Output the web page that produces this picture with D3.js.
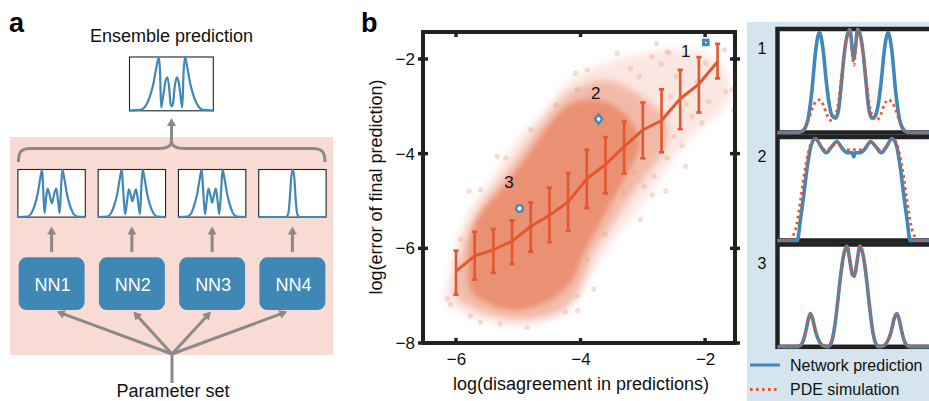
<!DOCTYPE html>
<html><head><meta charset="utf-8">
<script src="https://cdn.jsdelivr.net/npm/d3@7"></script>
<style>
body{margin:0;background:#fff;}
svg{display:block;font-family:"Liberation Sans",Arial,Helvetica,sans-serif;}
</style>
</head><body>
<svg id="c" width="929" height="401"></svg>
<script>
// ---------------- DATA ----------------
// Panel b: binned mean and error bars
const binX    = [-6.0,-5.7,-5.4,-5.1,-4.8,-4.5,-4.2,-3.9,-3.6,-3.3,-3.0,-2.7,-2.4,-2.1,-1.8];
const binMean = [-6.48,-6.16,-6.03,-5.85,-5.54,-5.30,-5.02,-4.53,-4.23,-3.85,-3.50,-3.30,-2.84,-2.53,-2.06];
const binLow  = [-6.98,-6.66,-6.52,-6.33,-6.07,-5.87,-5.63,-5.15,-4.84,-4.42,-4.10,-3.97,-3.48,-3.13,-2.41];
const binHigh = [-6.05,-5.65,-5.59,-5.41,-5.03,-4.72,-4.41,-3.92,-3.65,-3.32,-2.92,-2.64,-2.23,-1.96,-1.68];

// scatter cloud: density outlines (x = log disagreement, y = log error)
const cloudOuter = [[-6.15,-7.1],[-6.1,-6.5],[-5.97,-5.8],[-5.78,-5.2],[-5.52,-4.7],[-5.22,-4.1],[-4.87,-3.5],[-4.52,-3.0],[-4.22,-2.5],[-3.82,-2.2],[-3.4,-2.0],[-2.9,-1.85],[-2.4,-1.8],[-2.0,-1.9],[-1.7,-2.2],[-1.6,-2.7],[-1.75,-3.1],[-2.1,-3.5],[-2.45,-4.0],[-2.75,-4.6],[-3.1,-5.2],[-3.5,-5.9],[-3.8,-6.5],[-4.05,-7.1],[-4.5,-7.5],[-5.0,-7.62],[-5.5,-7.55],[-5.9,-7.35]];
const cloudMid = [[-6.0,-7.0],[-5.95,-6.3],[-5.8,-5.6],[-5.55,-5.0],[-5.25,-4.5],[-4.95,-3.95],[-4.65,-3.4],[-4.3,-2.85],[-3.95,-2.55],[-3.6,-2.45],[-3.25,-2.6],[-2.9,-2.9],[-2.62,-3.3],[-2.62,-3.8],[-2.85,-4.3],[-3.2,-4.9],[-3.5,-5.5],[-3.8,-6.1],[-4.0,-6.8],[-4.3,-7.3],[-4.8,-7.5],[-5.3,-7.45],[-5.75,-7.25]];
const cloudCore = [[-5.75,-6.9],[-5.8,-6.3],[-5.75,-5.7],[-5.6,-5.25],[-5.3,-4.8],[-5.0,-4.3],[-4.75,-3.85],[-4.45,-3.3],[-4.15,-2.95],[-3.8,-2.85],[-3.45,-3.0],[-3.2,-3.3],[-3.05,-3.8],[-3.2,-4.3],[-3.45,-4.9],[-3.7,-5.5],[-3.95,-6.1],[-4.15,-6.7],[-4.5,-7.1],[-5.0,-7.3],[-5.4,-7.2]];
const cloudStray = [[-3.41,-1.88],[-2.61,-1.85],[-1.99,-2.09],[-1.56,-2.65],[-1.54,-3.07],[-2.31,-4.27],[-2.37,-3.83],[-2.63,-4.79],[-3.06,-2.37],[-4.08,-2.30],[-4.40,-2.97],[-5.34,-4.06],[-5.79,-4.79],[-6.09,-7.18],[-5.61,-7.56],[-4.86,-7.67],[-4.05,-7.32],[-3.79,-6.86],[-3.04,-5.39],[-3.30,-4.83],[-2.82,-4.48],[-2.78,-1.67],[-2.58,-1.87],[-2.85,-1.95],[-2.70,-2.11],[-2.85,-4.88],[-2.98,-4.69],[-1.67,-2.69],[-1.69,-1.81],[-2.55,-2.79],[-2.47,-2.37],[-2.13,-2.48],[-1.94,-2.90],[-2.21,-3.21],[-2.50,-3.64],[-2.61,-4.09],[-3.14,-4.41],[-6.14,-7.07],[-5.77,-7.43],[-5.29,-7.60],[-5.61,-4.76],[-5.20,-4.09],[-4.80,-3.49],[-4.05,-2.65],[-3.89,-2.23],[-5.93,-5.81],[-3.89,-6.23],[-4.05,-7.0],[-4.24,-7.35],[-3.2,-2.2],[-2.3,-2.95],[-2.05,-3.35],[-3.6,-5.7]];

const specialPts = [
  {id:"1", x:-1.99, y:-1.65, shape:"square"},
  {id:"2", x:-3.71, y:-3.27, shape:"diamond"},
  {id:"3", x:-4.98, y:-5.16, shape:"circle"}
];
const xTicks = [-6,-4,-2];
const yTicks = [-8,-6,-4,-2];

// Panel b right: profiles (u across panel, v normalised height)
const p1Net = [[-1,0],[-0.74,0],[-0.68,0.01],[-0.64,0.04],[-0.6,0.13],[-0.55,0.4],[-0.5,0.8],[-0.45,0.98],[-0.4,0.8],[-0.36,0.5],[-0.32,0.27],[-0.28,0.16],[-0.24,0.14],[-0.2,0.22],[-0.16,0.5],[-0.12,0.8],[-0.08,0.97],[-0.05,1.01],[-0.02,0.82],[0,0.72],[0.02,0.82],[0.05,1.01],[0.08,0.97],[0.12,0.8],[0.16,0.5],[0.2,0.22],[0.24,0.14],[0.28,0.16],[0.32,0.27],[0.36,0.5],[0.4,0.8],[0.45,0.98],[0.5,0.8],[0.55,0.4],[0.6,0.13],[0.64,0.04],[0.68,0.01],[0.74,0],[1,0]];
const p1Pde = [[-1,0],[-0.72,0],[-0.66,0.03],[-0.6,0.11],[-0.55,0.22],[-0.5,0.3],[-0.45,0.32],[-0.4,0.27],[-0.35,0.17],[-0.3,0.12],[-0.25,0.15],[-0.2,0.3],[-0.16,0.55],[-0.12,0.8],[-0.08,0.96],[-0.05,1.01],[-0.03,0.85],[0,0.66],[0.03,0.85],[0.05,1.01],[0.08,0.96],[0.12,0.8],[0.16,0.55],[0.2,0.3],[0.25,0.15],[0.3,0.12],[0.35,0.17],[0.4,0.27],[0.45,0.32],[0.5,0.3],[0.55,0.22],[0.6,0.11],[0.66,0.03],[0.72,0],[1,0]];
const p2Net = [[-1,0],[-0.74,0],[-0.7,0.2],[-0.66,0.42],[-0.61,0.72],[-0.56,0.93],[-0.5,1.0],[-0.43,0.92],[-0.36,0.86],[-0.29,0.92],[-0.22,0.97],[-0.15,0.9],[-0.08,0.86],[-0.02,0.86],[0,0.82],[0.02,0.86],[0.08,0.86],[0.15,0.9],[0.22,0.97],[0.29,0.92],[0.36,0.86],[0.43,0.92],[0.5,1.0],[0.56,0.93],[0.61,0.72],[0.66,0.42],[0.7,0.2],[0.74,0],[1,0]];
const p2Pde = [[-1,0],[-0.86,0],[-0.8,0.04],[-0.75,0.15],[-0.7,0.38],[-0.65,0.65],[-0.6,0.85],[-0.55,0.97],[-0.51,1.0],[-0.44,0.93],[-0.36,0.88],[-0.29,0.92],[-0.22,0.96],[-0.15,0.91],[-0.08,0.89],[0,0.89],[0.08,0.89],[0.15,0.91],[0.22,0.96],[0.29,0.92],[0.36,0.88],[0.44,0.93],[0.51,1.0],[0.55,0.97],[0.6,0.85],[0.65,0.65],[0.7,0.38],[0.75,0.15],[0.8,0.04],[0.86,0],[1,0]];
const p3Net = [[-1,0],[-0.74,0],[-0.68,0.03],[-0.63,0.15],[-0.6,0.26],[-0.57,0.33],[-0.54,0.28],[-0.5,0.15],[-0.45,0.05],[-0.4,0.01],[-0.34,0],[-0.29,0.05],[-0.25,0.2],[-0.21,0.45],[-0.17,0.72],[-0.13,0.92],[-0.09,1.0],[-0.05,0.85],[-0.02,0.72],[0,0.7],[0.02,0.74],[0.05,0.88],[0.08,1.0],[0.12,0.92],[0.16,0.72],[0.2,0.45],[0.24,0.2],[0.28,0.05],[0.33,0],[0.39,0.01],[0.44,0.05],[0.49,0.15],[0.53,0.28],[0.565,0.33],[0.6,0.26],[0.63,0.15],[0.68,0.03],[0.74,0],[1,0]];
const p3Pde = [[-1,0],[-0.74,0],[-0.68,0.03],[-0.63,0.15],[-0.6,0.26],[-0.57,0.33],[-0.54,0.28],[-0.5,0.15],[-0.45,0.05],[-0.4,0.01],[-0.34,0],[-0.29,0.05],[-0.25,0.2],[-0.21,0.45],[-0.17,0.72],[-0.13,0.92],[-0.09,1.0],[-0.05,0.85],[-0.02,0.71],[0,0.69],[0.02,0.73],[0.05,0.88],[0.08,1.0],[0.12,0.92],[0.16,0.72],[0.2,0.45],[0.24,0.2],[0.28,0.05],[0.33,0],[0.39,0.01],[0.44,0.05],[0.49,0.15],[0.53,0.28],[0.565,0.33],[0.6,0.26],[0.63,0.15],[0.68,0.03],[0.74,0],[1,0]];
const panelLabels = ["1","2","3"];
const legendLabels = ["Network prediction","PDE simulation"];

// Panel a: networks and their predicted profiles
const nnNames = ["NN1","NN2","NN3","NN4"];
const ensembleCurve = [[-1,0],[-0.75,0.01],[-0.62,0.08],[-0.52,0.25],[-0.43,0.5],[-0.36,0.8],[-0.3,1.0],[-0.27,0.7],[-0.245,0.06],[-0.2,0.25],[-0.14,0.55],[-0.095,0.62],[-0.05,0.4],[-0.02,0.12],[0.01,0.08],[0.04,0.14],[0.08,0.45],[0.13,0.62],[0.18,0.5],[0.23,0.2],[0.26,0.06],[0.29,0.7],[0.325,1.0],[0.38,0.8],[0.45,0.5],[0.54,0.25],[0.64,0.08],[0.76,0.01],[1,0]];
const nnCurves = [
  [[-1,0],[-0.72,0.01],[-0.6,0.08],[-0.5,0.25],[-0.41,0.5],[-0.34,0.8],[-0.28,1.0],[-0.25,0.6],[-0.21,0.08],[-0.17,0.35],[-0.12,0.6],[-0.07,0.5],[0.01,0.29],[0.08,0.5],[0.14,0.6],[0.19,0.35],[0.24,0.08],[0.28,0.6],[0.32,1.0],[0.38,0.8],[0.45,0.5],[0.54,0.25],[0.64,0.08],[0.76,0.01],[1,0]],
  [[-1,0],[-0.74,0.01],[-0.62,0.08],[-0.52,0.25],[-0.43,0.5],[-0.36,0.8],[-0.3,1.0],[-0.26,0.6],[-0.2,0.06],[-0.14,0.35],[-0.09,0.58],[-0.04,0.48],[0.02,0.33],[0.07,0.48],[0.125,0.58],[0.18,0.35],[0.24,0.06],[0.28,0.6],[0.32,1.0],[0.38,0.8],[0.45,0.5],[0.54,0.25],[0.64,0.08],[0.76,0.01],[1,0]],
  [[-1,0],[-0.74,0.01],[-0.62,0.08],[-0.53,0.25],[-0.44,0.5],[-0.37,0.8],[-0.31,1.0],[-0.27,0.6],[-0.21,0.06],[-0.16,0.35],[-0.11,0.6],[-0.05,0.45],[0,0.3],[0.05,0.45],[0.11,0.6],[0.16,0.35],[0.21,0.06],[0.27,0.6],[0.31,1.0],[0.37,0.8],[0.44,0.5],[0.53,0.25],[0.62,0.08],[0.74,0.01],[1,0]],
  [[-1,0],[-0.2,0],[-0.13,0.05],[-0.08,0.35],[-0.04,0.8],[0.01,1.0],[0.06,0.8],[0.1,0.35],[0.15,0.05],[0.22,0],[1,0]]
];

// ---------------- STYLE ----------------
const BLUE = "#3f88b8", RED = "#e4572e", GREY = "#8a8a8a", DARK = "#222";
const svg = d3.select("#c");
const defs = svg.append("defs");
[["blur4",3.5],["blur3",2.5]].forEach(([id,s])=>{
  defs.append("filter").attr("id",id).attr("x","-30%").attr("y","-30%").attr("width","160%").attr("height","160%")
    .append("feGaussianBlur").attr("stdDeviation",s);
});

function arrow(g, x1, y1, x2, y2){
  const a = Math.atan2(y2-y1, x2-x1), L = 8, hw = 4.5;
  const bx = x2 - L*Math.cos(a), by = y2 - L*Math.sin(a);
  g.append("line").attr("x1",x1).attr("y1",y1).attr("x2",bx+1*Math.cos(a)).attr("y2",by+1*Math.sin(a))
    .attr("stroke",GREY).attr("stroke-width",3);
  g.append("path").attr("d",`M${x2},${y2}L${bx - hw*Math.sin(a)},${by + hw*Math.cos(a)}L${bx + hw*Math.sin(a)},${by - hw*Math.cos(a)}Z`)
    .attr("fill",GREY);
}

// ================= PANEL A =================
const ga = svg.append("g");
ga.append("text").attr("x",9).attr("y",31.5).attr("font-size",27).attr("font-weight","bold").text("a");
ga.append("rect").attr("x",10).attr("y",137).attr("width",323).attr("height",218).attr("fill","#f8dcd4");

const col = d3.scalePoint().domain(nnNames).range([51.6, 292.4]);
const miniLine = (xs, ys) => d3.line().x(d=>xs(d[0])).y(d=>ys(d[1])).curve(d3.curveMonotoneX);

// ensemble box
const ex = d3.scaleLinear().domain([-1,1]).range([129.5,213.3]);
const ey = d3.scaleLinear().domain([0,1]).range([110.5,57]);
ga.append("text").attr("x",171.5).attr("y",41.5).attr("text-anchor","middle").attr("font-size",18).attr("fill","#111").text("Ensemble prediction");
ga.append("rect").attr("x",129.5).attr("y",57).attr("width",83.8).attr("height",53.8).attr("fill","#fff").attr("stroke",DARK).attr("stroke-width",1.1);
ga.append("path").attr("d",miniLine(ex,ey)(ensembleCurve)).attr("fill","none").attr("stroke",BLUE).attr("stroke-width",2.2);

// up arrow and brace
arrow(ga, 171.5, 142, 171.5, 118);
ga.append("path").attr("d","M18.5,162 C18.5,152 21,148.5 30,148.5 L158,148.5 C166,148.5 171.5,147 171.5,141 C171.5,147 177,148.5 185,148.5 L313,148.5 C322,148.5 325,152 325,162")
  .attr("fill","none").attr("stroke",GREY).attr("stroke-width",3);

// NN output boxes
const oy = d3.scaleLinear().domain([0,1]).range([217,169.5]);
nnNames.forEach((n,i)=>{
  const cx = col(n);
  const xs = d3.scaleLinear().domain([-1,1]).range([cx-33.7, cx+33.7]);
  ga.append("rect").attr("x",cx-33.7).attr("y",169.5).attr("width",67.4).attr("height",47.6).attr("fill","#fff").attr("stroke",DARK).attr("stroke-width",1.1);
  ga.append("path").attr("d",miniLine(xs,oy)(nnCurves[i])).attr("fill","none").attr("stroke",BLUE).attr("stroke-width",2.2);
  arrow(ga, cx, 252, cx, 226.5);
  ga.append("rect").attr("x",cx-33).attr("y",257.3).attr("width",66).attr("height",52.7).attr("rx",8).attr("fill","#3f88b6");
  ga.append("text").attr("x",cx+1).attr("y",290.5).attr("text-anchor","middle").attr("font-size",18).attr("fill","#fff").text(n);
});
// parameter set arrows
const tipX = [56.7,133.3,211,287.3];
tipX.forEach(tx=>arrow(ga, 172, 354, tx, 311.5));
ga.append("line").attr("x1",172).attr("y1",352).attr("x2",172).attr("y2",383).attr("stroke",GREY).attr("stroke-width",3);
ga.append("text").attr("x",173).attr("y",396.5).attr("text-anchor","middle").attr("font-size",18).attr("fill","#111").text("Parameter set");

// ================= PANEL B (scatter) =================
const gb = svg.append("g");
gb.append("text").attr("x",361).attr("y",31.5).attr("font-size",27).attr("font-weight","bold").text("b");
const x = d3.scaleLinear().domain([-6.53,-1.52]).range([423,735]);
const y = d3.scaleLinear().domain([-8,-1.43]).range([343,32]);
const cl = d3.line().x(d=>x(d[0])).y(d=>y(d[1])).curve(d3.curveCatmullRomClosed.alpha(0.5));

const cloud = gb.append("g");
cloud.append("path").attr("d",cl(cloudOuter)).attr("fill","#ef9f85").attr("opacity",0.24).attr("filter","url(#blur4)");
cloud.append("path").attr("d",cl(cloudMid)).attr("fill","#ec9579").attr("opacity",0.55).attr("filter","url(#blur4)");
cloud.append("path").attr("d",cl(cloudCore)).attr("fill","#ea8c6c").attr("opacity",0.88).attr("filter","url(#blur3)");
cloud.selectAll("circle").data(cloudStray).join("circle")
  .attr("cx",d=>x(d[0])).attr("cy",d=>y(d[1])).attr("r",2.7).attr("fill","#ec9478").attr("opacity",0.32);

// mean line + error bars
gb.append("path").attr("d",d3.line().x((d,i)=>x(binX[i])).y(d=>y(d))(binMean))
  .attr("fill","none").attr("stroke",RED).attr("stroke-width",3).attr("stroke-linejoin","round");
const eb = gb.append("g").attr("stroke",RED);
binX.forEach((bx,i)=>{
  eb.append("line").attr("x1",x(bx)).attr("x2",x(bx)).attr("y1",y(binLow[i])).attr("y2",y(binHigh[i])).attr("stroke-width",2.6);
  [binLow[i],binHigh[i]].forEach(v=>eb.append("line").attr("x1",x(bx)-2.6).attr("x2",x(bx)+2.6).attr("y1",y(v)).attr("y2",y(v)).attr("stroke-width",2.6));
});

// special points
const lblOff = {"1":[-20,14.5],"2":[-3,-20],"3":[-10.5,-21]};
specialPts.forEach(p=>{
  const px = x(p.x), py = y(p.y);
  if(p.shape==="square"){
    gb.append("rect").attr("x",px-3.8).attr("y",py-3.8).attr("width",7.6).attr("height",7.6).attr("fill",BLUE);
    gb.append("circle").attr("cx",px).attr("cy",py).attr("r",0.9).attr("fill","#fff");
  } else if(p.shape==="diamond"){
    gb.append("path").attr("d",`M${px},${py-4.6}L${px+3.6},${py}L${px},${py+4.6}L${px-3.6},${py}Z`).attr("fill","#fff").attr("stroke",BLUE).attr("stroke-width",2.4);
  } else {
    gb.append("circle").attr("cx",px).attr("cy",py).attr("r",3.4).attr("fill","#fff").attr("stroke",BLUE).attr("stroke-width",2.4);
  }
  const o = lblOff[p.id];
  gb.append("text").attr("x",px+o[0]).attr("y",py+o[1]).attr("text-anchor","middle").attr("font-size",17).attr("fill","#111").text(p.id);
});

// frame and ticks
gb.append("rect").attr("x",423).attr("y",32).attr("width",312).attr("height",311).attr("fill","none").attr("stroke",DARK).attr("stroke-width",4);
const tk = gb.append("g").attr("stroke",DARK).attr("stroke-width",3.5);
xTicks.forEach(v=>{
  tk.append("line").attr("x1",x(v)).attr("x2",x(v)).attr("y1",30).attr("y2",37);
  tk.append("line").attr("x1",x(v)).attr("x2",x(v)).attr("y1",338).attr("y2",345);
});
yTicks.forEach(v=>{
  tk.append("line").attr("x1",418).attr("x2",428).attr("y1",y(v)).attr("y2",y(v));
  tk.append("line").attr("x1",730).attr("x2",740).attr("y1",y(v)).attr("y2",y(v));
});
const xa = gb.append("g").attr("transform","translate(0,343)")
  .call(d3.axisBottom(x).tickValues(xTicks).tickSize(0).tickPadding(10).tickFormat(d3.format("d")));
const ya = gb.append("g").attr("transform","translate(423,0)")
  .call(d3.axisLeft(y).tickValues(yTicks).tickSize(0).tickPadding(8).tickFormat(d3.format("d")));
[xa,ya].forEach(a=>{a.select(".domain").remove(); a.selectAll("text").attr("font-size",17).attr("fill","#111").attr("font-family",null);});
gb.append("text").attr("x",581).attr("y",390).attr("text-anchor","middle").attr("font-size",18).attr("fill","#111").text("log(disagreement in predictions)");
gb.append("text").attr("transform","translate(382,187) rotate(-90)").attr("text-anchor","middle").attr("font-size",18).attr("fill","#111").text("log(error of final prediction)");

// ================= PANEL B (profiles) =================
const gc = svg.append("g");
gc.append("rect").attr("x",747).attr("y",22).attr("width",182).attr("height",379).attr("fill","#d4e5ef");
const ux = d3.scaleLinear().domain([-1,1]).range([777.5,930]);
const panels = [
  {top:29, bottom:132.5, net:p1Net, pde:p1Pde},
  {top:137, bottom:240.5, net:p2Net, pde:p2Pde},
  {top:244.5, bottom:346.8, net:p3Net, pde:p3Pde}
];
panels.forEach((p,i)=>{
  gc.append("rect").attr("x",777.5).attr("y",p.top).attr("width",160).attr("height",p.bottom-p.top)
    .attr("fill","#fff").attr("stroke",DARK).attr("stroke-width",4.5);
});
panels.forEach((p,i)=>{
  const vy = d3.scaleLinear().domain([0,1]).range([p.bottom, p.top+1.5]);
  const ln = d3.line().x(d=>ux(d[0])).y(d=>vy(d[1])).curve(d3.curveMonotoneX);
  gc.append("path").attr("d",ln(p.net)).attr("fill","none").attr("stroke",BLUE).attr("stroke-width",3.6).attr("stroke-linejoin","round");
  gc.append("path").attr("d",ln(p.pde)).attr("fill","none").attr("stroke",RED).attr("stroke-width",2.8).attr("stroke-dasharray","2.6,3.4");
  gc.append("text").attr("x",762).attr("y",p.top+24.5).attr("text-anchor","middle").attr("font-size",16).attr("fill","#111").text(panelLabels[i]);
});
// legend
const lg = gc.append("g");
lg.append("line").attr("x1",750).attr("x2",780).attr("y1",365).attr("y2",365).attr("stroke",BLUE).attr("stroke-width",3);
lg.append("line").attr("x1",750).attr("x2",780).attr("y1",389.5).attr("y2",389.5).attr("stroke",RED).attr("stroke-width",2.8).attr("stroke-dasharray","2.6,3.4");
lg.append("text").attr("x",790).attr("y",371).attr("font-size",16).attr("fill","#111").text(legendLabels[0]);
lg.append("text").attr("x",790).attr("y",395).attr("font-size",16).attr("fill","#111").text(legendLabels[1]);
</script>
</body></html>
